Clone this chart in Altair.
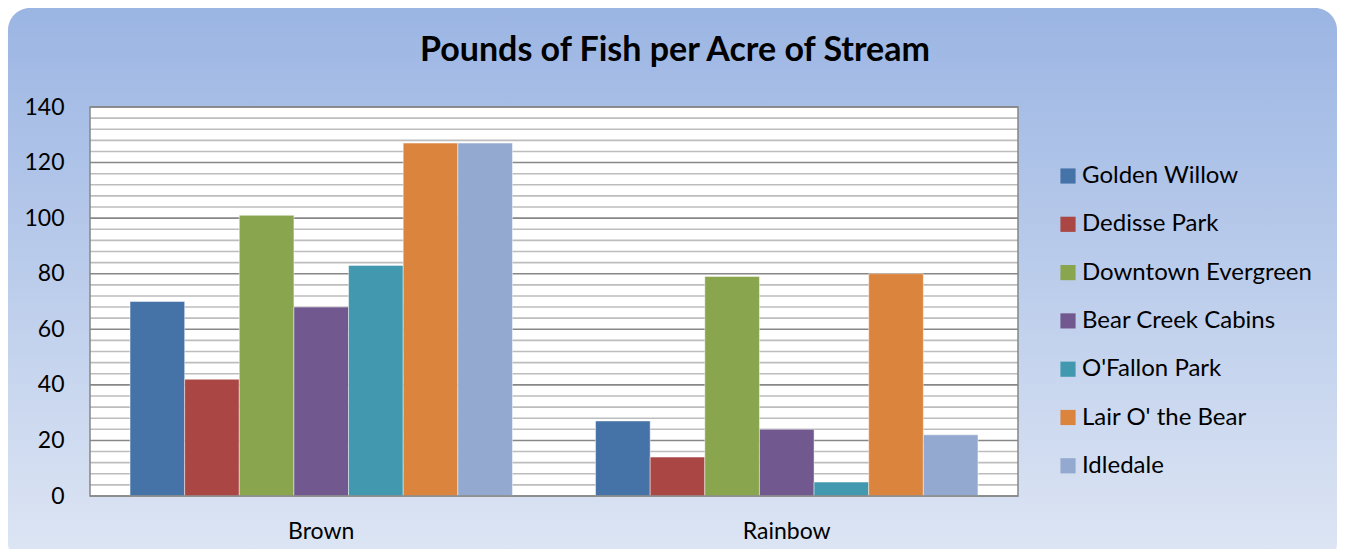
import altair as alt
import pandas as pd

title_text = "Pounds of Fish per Acre of Stream"
categories = ["Brown", "Rainbow"]
sites = ["Golden Willow", "Dedisse Park", "Downtown Evergreen", "Bear Creek Cabins",
         "O'Fallon Park", "Lair O' the Bear", "Idledale"]
brown = [70, 42, 101, 68, 83, 127, 127]
rainbow = [27, 14, 79, 24, 5, 80, 22]
colors = ["#4572A7", "#AA4643", "#89A54E", "#71588F", "#4198AF", "#DB843D", "#93A9CF"]
y_ticks = list(range(0, 141, 20))
minor_grid = list(range(0, 141, 4))

rows = []
for i, s in enumerate(sites):
    rows.append({"fish": "Brown", "site": s, "order": i, "value": brown[i]})
    rows.append({"fish": "Rainbow", "site": s, "order": i, "value": rainbow[i]})
df = pd.DataFrame(rows)

W, H = 928, 389
PL, PT = 82, 99
TOTW, TOTH = 1329, 541
PR, PB = TOTW - PL - W, TOTH - PT - H
FONT = "Lato"

one = pd.DataFrame({"a": [0]})

bg = alt.Chart(one).mark_rect(
    cornerRadius=22,
    fill=alt.LinearGradient(
        gradient="linear",
        stops=[alt.GradientStop(color="#9BB5E3", offset=0),
               alt.GradientStop(color="#DEE6F4", offset=1)],
        x1=0, x2=0, y1=0, y2=1),
).encode(x=alt.value(-PL), x2=alt.value(TOTW - PL), y=alt.value(-PT), y2=alt.value(TOTH - PT + 16))

title = alt.Chart(pd.DataFrame({"t": [title_text]})).mark_text(
    font=FONT, fontSize=34, fontWeight="bold", color="black", align="center", baseline="middle"
).encode(text="t:N", x=alt.value(W / 2 + 121), y=alt.value(-56))

plot_bg = alt.Chart(one).mark_rect(fill="white").encode(
    x=alt.value(0), x2=alt.value(W), y=alt.value(0), y2=alt.value(H))

grid_df = pd.DataFrame({"g": minor_grid, "major": [v % 20 == 0 for v in minor_grid]})
grid_minor = alt.Chart(grid_df).transform_filter("!datum.major").mark_rule(
    color="#BDBDBD", strokeWidth=1.6).encode(y=alt.Y("g:Q", scale=alt.Scale(domain=[0, 140])))
grid_major = alt.Chart(grid_df).transform_filter("datum.major").mark_rule(
    color="#878787", strokeWidth=1.6).encode(y=alt.Y("g:Q", scale=alt.Scale(domain=[0, 140])))

bars = alt.Chart(df).mark_bar(stroke="white", strokeOpacity=0.45, strokeWidth=1).encode(
    x=alt.X("fish:N", sort=categories, title=None,
            scale=alt.Scale(paddingInner=0.1785, paddingOuter=0.086),
            axis=alt.Axis(labelAngle=0, labelFont=FONT, labelFontSize=23, labelColor="black",
                          labelPadding=24, ticks=False, domain=False, zindex=1)),
    xOffset=alt.XOffset("site:N", sort=sites, scale=alt.Scale(paddingInner=0, paddingOuter=0)),
    y=alt.Y("value:Q", title=None, scale=alt.Scale(domain=[0, 140], nice=False),
            axis=alt.Axis(values=y_ticks, grid=False, ticks=False, domain=False, zindex=1,
                          labelFont=FONT, labelFontSize=23, labelColor="black", labelPadding=26)),
    color=alt.Color("site:N", sort=sites, scale=alt.Scale(domain=sites, range=colors),
                    legend=alt.Legend(title=None, orient="none", legendX=966, legendY=57,
                                      symbolType="square", symbolSize=230, symbolStrokeWidth=0,
                                      labelFont=FONT, labelFontSize=24, labelColor="black",
                                      rowPadding=24.3, labelOffset=2, labelLimit=400)),
)

border = alt.Chart(one).mark_rect(fill=None, stroke="#878787", strokeWidth=1.5).encode(
    x=alt.value(0), x2=alt.value(W), y=alt.value(0), y2=alt.value(H))

chart = alt.layer(bg, title, plot_bg, grid_minor, grid_major, bars, border).properties(
    width=W, height=H,
    autosize=alt.AutoSizeParams(type="none"),
    padding={"left": PL, "top": PT, "right": PR, "bottom": PB},
).configure_view(stroke=None).configure(background="white")

chart.save("out.html", embed_options={"renderer": "svg", "actions": False})
